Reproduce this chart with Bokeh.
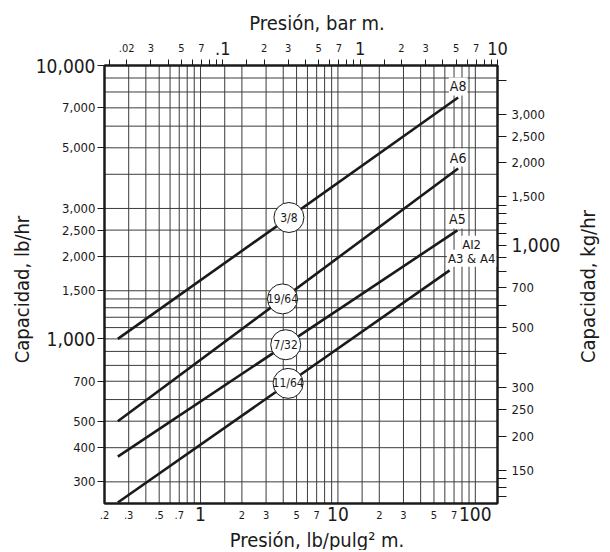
import math
from bokeh.plotting import figure
from bokeh.models import (Range1d, LogAxis, LogScale, FixedTicker,
                          CustomJSTickFormatter, Label)
from bokeh.core.properties import value
from bokeh.embed import file_html
from bokeh.resources import INLINE

# ---------------- data ----------------
PSI_PER_BAR = 14.5038
KG_PER_LB = 0.45359237

orifices = ["3/8", "19/64", "7/32", "11/64"]
models = ["A8", "A6", "A5", "A3 & A4"]
psi_start = [0.25, 0.25, 0.25, 0.25]
psi_end = [75, 75, 74, 65]
lb_start = [1000, 500, 371, 252]
lb_end = [7640, 4200, 2494, 1781]
badge_psi = [4.4, 3.95, 4.17, 4.34]

bar_min, bar_max = 0.2 / PSI_PER_BAR, 10.0
psi_min, psi_max = 0.2, bar_max * PSI_PER_BAR
lb_min, lb_max = 250, 10000
kg_min, kg_max = lb_min * KG_PER_LB, lb_max * KG_PER_LB

# bottom axis (psi)
psi_ticks = [0.2, 0.3, 0.5, 0.7, 1, 2, 3, 5, 7, 10, 20, 30, 50, 70, 100]
psi_labels = [".2", ".3", ".5", ".7", "", "2", "3", "5", "7", "", "2", "3", "5", "7", ""]
psi_big = [1, 10, 100]
psi_big_labels = ["1", "10", "100"]
psi_grid = [0.3, 0.4, 0.5, 0.6, 0.7, 0.8, 0.9, 1, 1.5, 2, 3, 4, 5, 6, 7, 8, 9, 10,
            15, 20, 30, 40, 50, 60, 70, 80, 90, 100]

# top axis (bar)
bar_ticks = [0.015, 0.02, 0.03, 0.04, 0.05, 0.06, 0.07, 0.08, 0.09, 0.1, 0.15,
             0.2, 0.3, 0.4, 0.5, 0.6, 0.7, 0.8, 0.9, 1, 1.5, 2, 3, 4, 5, 6, 7, 8, 9, 10]
bar_label_vals = [0.02, 0.03, 0.05, 0.07, 0.2, 0.3, 0.5, 0.7, 2, 3, 5, 7]
bar_labels = [".02", "3", "5", "7", "2", "3", "5", "7", "2", "3", "5", "7"]
bar_big = [0.1, 1, 10]
bar_big_labels = [".1", "1", "10"]

# left axis (lb/hr)
lb_ticks = [300, 400, 500, 700, 1000, 1500, 2000, 2500, 3000, 5000, 7000, 10000]
lb_labels = ["300", "400", "500", "700", "", "1,500", "2,000", "2,500", "3,000",
             "5,000", "7,000", ""]
lb_big = [1000, 10000]
lb_big_labels = ["1,000", "10,000"]
lb_grid = [300, 400, 500, 600, 700, 800, 900, 1000, 1100, 1200, 1300, 1400, 1500,
           2000, 2500, 3000, 4000, 5000, 6000, 7000, 8000, 9000]

# right axis (kg/hr)
kg_ticks = [120, 130, 140, 150, 200, 250, 300, 400, 500, 600, 700, 800, 900, 1000,
            1100, 1200, 1300, 1400, 1500, 2000, 2500, 3000, 4000]
kg_label_vals = [150, 200, 250, 300, 500, 700, 1500, 2000, 2500, 3000]
kg_labels = ["150", "200", "250", "300", "500", "700", "1,500", "2,000", "2,500", "3,000"]
kg_big = [1000]
kg_big_labels = ["1,000"]

# ---------------- layout ----------------
W, H = 608, 550
PX_L, PX_R, PX_T, PX_B = 104, 497, 65, 503   # chart box inside the canvas
FONT = "'Liberation Sans Narrow', 'DejaVu Sans Condensed', Roboto, sans-serif"
INK = "#1a1a1a"
GRID = "#3c3c3c"

lg = math.log10
kx = (PX_R - PX_L) / (lg(psi_max) - lg(psi_min))
ky = (PX_B - PX_T) / (lg(lb_max) - lg(lb_min))
x0_full = 10 ** (lg(psi_min) - PX_L / kx)
x1_full = 10 ** (lg(psi_max) + (W - PX_R) / kx)
y0_full = 10 ** (lg(lb_min) - (H - PX_B) / ky)
y1_full = 10 ** (lg(lb_max) + PX_T / ky)


def fmt(vals, labs):
    return CustomJSTickFormatter(args=dict(vals=list(vals), labs=list(labs)), code="""
        for (let i = 0; i < vals.length; i++) {
            if (Math.abs(vals[i] - tick) <= 1e-6 * Math.abs(tick)) { return labs[i]; }
        }
        return "";
    """)


p = figure(width=W, height=H, output_backend="svg", toolbar_location=None,
           x_axis_type="log", y_axis_type="log",
           x_axis_location=None, y_axis_location=None,
           x_range=Range1d(x0_full, x1_full), y_range=Range1d(y0_full, y1_full),
           min_border=0)
p.grid.visible = False
p.background_fill_color = "white"
p.border_fill_color = "white"
p.outline_line_color = None

p.extra_x_ranges = {"bar": Range1d(x0_full / PSI_PER_BAR, x1_full / PSI_PER_BAR)}
p.extra_x_scales = {"bar": LogScale()}
p.extra_y_ranges = {"kg": Range1d(y0_full * KG_PER_LB, y1_full * KG_PER_LB)}
p.extra_y_scales = {"kg": LogScale()}

# grid lines of the chart box
p.segment(x0=psi_grid, y0=[lb_min] * len(psi_grid), x1=psi_grid, y1=[lb_max] * len(psi_grid),
          line_color=GRID, line_width=1)
p.segment(x0=[psi_min] * len(lb_grid), y0=lb_grid, x1=[psi_max] * len(lb_grid), y1=lb_grid,
          line_color=GRID, line_width=1)
p.quad(left=[psi_min], right=[psi_max], bottom=[lb_min], top=[lb_max],
       fill_color=None, line_color=INK, line_width=2)


def make_axis(side, ticks, vals, labs, loc, bounds, size, tick_out, standoff,
              line=True, **kw):
    ax = LogAxis(ticker=FixedTicker(ticks=list(ticks)), formatter=fmt(vals, labs),
                 fixed_location=loc, bounds=bounds, **kw)
    ax.major_tick_out = tick_out
    ax.major_tick_in = 0
    ax.minor_tick_out = 0
    ax.minor_tick_in = 0
    ax.major_tick_line_color = INK if (line and tick_out > 0) else None
    ax.major_tick_line_width = 1
    ax.major_label_standoff = standoff
    ax.major_label_text_font = FONT
    ax.major_label_text_font_size = size
    ax.major_label_text_color = INK
    ax.axis_line_color = INK if line else None
    ax.axis_line_width = 2
    p.add_layout(ax, side)
    return ax


# bottom (psi)
make_axis("below", psi_ticks, psi_ticks, psi_labels, lb_min, (psi_min, psi_max),
          "11px", 0, 7)
make_axis("below", psi_big, psi_big, psi_big_labels, lb_min, (psi_min, psi_max),
          "19px", 0, 3, line=False)
# left (lb/hr)
make_axis("left", lb_ticks, lb_ticks, lb_labels, psi_min, (lb_min, lb_max),
          "13px", 7, 2)
make_axis("left", lb_big, lb_big, lb_big_labels, psi_min, (lb_min, lb_max),
          "19px", 0, 9, line=False)
# top (bar)
make_axis("above", bar_ticks, bar_label_vals, bar_labels, lb_max, (bar_min, bar_max),
          "11px", 6, 8, x_range_name="bar")
make_axis("above", bar_big, bar_big, bar_big_labels, lb_max, (bar_min, bar_max),
          "18px", 0, 11, line=False, x_range_name="bar")
# right (kg/hr)
make_axis("right", kg_ticks, kg_label_vals, kg_labels, psi_max, (kg_min, kg_max),
          "13px", 9, 5, y_range_name="kg")
make_axis("right", kg_big, kg_big, kg_big_labels, psi_max, (kg_min, kg_max),
          "19px", 0, 14, line=False, y_range_name="kg")


def lab(text, x, y, size, **kw):
    l = Label(x=x, y=y, text=text, text_font=FONT, text_font_size=size,
              text_color=INK, **kw)
    p.add_layout(l)
    return l


# axis titles
gx = math.sqrt(psi_min * psi_max)
gy = math.sqrt(lb_min * lb_max)
lab("Presión, bar m.", gx, lb_max, "20px", x_offset=16, y_offset=43,
    text_align="center", text_baseline="alphabetic")
lab("Presión, lb/pulg\u00b2 m.", gx, lb_min, "20px", x_offset=16, y_offset=-36,
    text_align="center", text_baseline="alphabetic")
lab("Capacidad, lb/hr", psi_min, gy, "20px", x_offset=-83, y_offset=-5,
    angle=math.pi / 2, text_align="center", text_baseline="middle")
lab("Capacidad, kg/hr", psi_max, gy, "20px", x_offset=90, y_offset=-2,
    angle=math.pi / 2, text_align="center", text_baseline="middle")

# lines
for xa, xb, ya, yb in zip(psi_start, psi_end, lb_start, lb_end):
    p.line([xa, xb], [ya, yb], line_color=INK, line_width=2.6)

# badges on the lines
badge_lb = []
for bx, xa, xb, ya, yb in zip(badge_psi, psi_start, psi_end, lb_start, lb_end):
    f = (lg(bx) - lg(xa)) / (lg(xb) - lg(xa))
    badge_lb.append(10 ** (lg(ya) + f * (lg(yb) - lg(ya))))
p.scatter(badge_psi, badge_lb, size=30, marker="circle", fill_color="white",
          line_color=INK, line_width=1)
p.text(badge_psi, badge_lb, text=orifices, text_font=value(FONT),
       text_font_size="12px", text_align="center", text_baseline="middle",
       text_color=INK)

# model labels at line ends
for i, (m, xb, yb) in enumerate(zip(models, psi_end, lb_end)):
    if i < 3:
        lab(m, xb, yb, "14px", y_offset=11, text_align="center",
            text_baseline="middle", background_fill_color="white", padding=1)
    else:
        lab("AI2", xb, yb, "13px", x_offset=22, y_offset=26, text_align="center",
            text_baseline="middle", background_fill_color="white", padding=1)
        lab(m, xb, yb, "13px", x_offset=22, y_offset=12, text_align="center",
            text_baseline="middle", background_fill_color="white", padding=1)

open("out.html", "w").write(file_html(p, INLINE))
